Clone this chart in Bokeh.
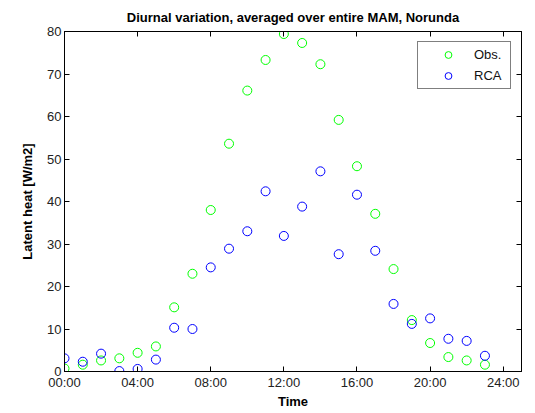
from bokeh.plotting import figure
from bokeh.models import LinearAxis, FixedTicker, Range1d, Legend, LegendItem
from bokeh.embed import file_html
from bokeh.resources import INLINE

hours = list(range(24))
obs = [0.7, 1.6, 2.6, 3.1, 4.4, 5.9, 15.1, 23.0, 38.0, 53.6, 66.1, 73.3,
       79.4, 77.3, 72.3, 59.2, 48.3, 37.1, 24.1, 12.1, 6.7, 3.4, 2.6, 1.6]
rca = [3.1, 2.3, 4.2, 0.1, 0.6, 2.8, 10.3, 10.0, 24.5, 28.9, 33.0, 42.4,
       31.9, 38.8, 47.1, 27.6, 41.6, 28.4, 15.9, 11.2, 12.5, 7.7, 7.2, 3.7]
x_ticks = [0, 4, 8, 12, 16, 20, 24]
x_tick_labels = ["00:00", "04:00", "08:00", "12:00", "16:00", "20:00", "24:00"]
y_ticks = [0, 10, 20, 30, 40, 50, 60, 70, 80]

FONT = "Liberation Sans"

p = figure(width=535, height=413, output_backend="svg", toolbar_location=None,
           x_range=Range1d(0, 25), y_range=Range1d(0, 80),
           min_border_left=64, min_border_right=14, min_border_top=31,
           min_border_bottom=42, x_axis_location=None, y_axis_location=None)
p.background_fill_color = "white"
p.border_fill_color = "white"
p.outline_line_color = "black"
p.outline_line_width = 1
p.xgrid.visible = False
p.ygrid.visible = False

p.title.text = "Diurnal variation, averaged over entire MAM, Norunda"
p.title.align = "center"
p.title.text_font = FONT
p.title.text_font_size = "13px"
p.title.text_font_style = "bold"
p.title.text_color = "black"
p.title.offset = 0
p.title.standoff = 13

def make_axis(ticks, labels=True, label_text=None):
    ax = LinearAxis(ticker=FixedTicker(ticks=ticks))
    ax.major_tick_in = 5
    ax.major_tick_out = 0
    ax.minor_tick_in = 0
    ax.minor_tick_out = 0
    ax.axis_line_color = "black"
    ax.major_tick_line_color = "black"
    ax.major_label_text_font = FONT
    ax.major_label_text_color = "#222222"
    ax.major_label_text_font_size = "13px"
    ax.major_label_standoff = 3 if labels else 0
    if not labels:
        ax.major_label_overrides = {t: "" for t in ticks}
    if label_text:
        ax.axis_label = label_text
        ax.axis_label_text_font = FONT
        ax.axis_label_text_font_style = "bold"
        ax.axis_label_text_font_size = "13px"
        ax.axis_label_text_color = "black"
    return ax

xb = make_axis(x_ticks, True, "Time")
xb.major_label_overrides = {t: l for t, l in zip(x_ticks, x_tick_labels)}
xb.axis_label_standoff = 1
p.add_layout(xb, "below")
xt = make_axis(x_ticks, False)
p.add_layout(xt, "above")
yl = make_axis(y_ticks, True, "Latent heat [W/m2]")
yl.axis_label_standoff = 9
p.add_layout(yl, "left")
yr = make_axis(y_ticks, False)
p.add_layout(yr, "right")

r_obs = p.scatter(hours, obs, marker="circle", size=9, fill_color=None,
                  line_color="#00ff00", line_width=1)
r_rca = p.scatter(hours, rca, marker="circle", size=9, fill_color=None,
                  line_color="#0000ff", line_width=1)

legend = Legend(items=[LegendItem(label="Obs.", renderers=[r_obs]),
                       LegendItem(label="RCA", renderers=[r_rca])],
                location="top_right")
legend.margin = 10
legend.padding = 4
legend.glyph_width = 52
legend.glyph_height = 17
legend.label_height = 17
legend.label_width = 32
legend.label_standoff = 0
legend.spacing = 4
legend.label_text_font = FONT
legend.label_text_font_size = "13px"
legend.label_text_color = "#111111"
legend.border_line_color = "black"
legend.border_line_width = 1
legend.background_fill_color = "white"
legend.background_fill_alpha = 1
p.add_layout(legend)

open("out.html", "w").write(file_html(p, INLINE))
